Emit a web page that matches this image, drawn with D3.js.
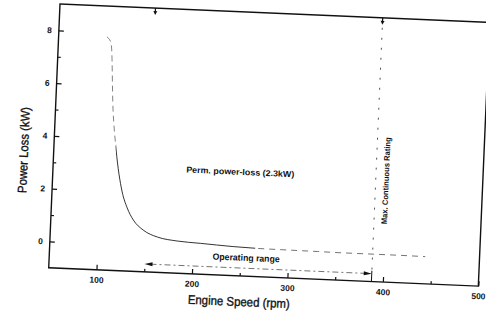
<!DOCTYPE html>
<html><head><meta charset="utf-8">
<script src="https://cdn.jsdelivr.net/npm/d3@7"></script>
<style>
html,body{margin:0;padding:0;background:#fff;}
svg{display:block;}
text{font-family:"Liberation Sans",Arial,Helvetica,sans-serif;fill:#111;}
</style></head>
<body>
<svg id="chart" width="486" height="320"></svg>
<script>
// ---- data ----
const speed = [100.6, 105.1, 110.2, 115.2, 123.4, 129.4, 136.2, 147.1, 162.1, 183.1, 207.3, 241.9, 267.1, 294.4, 330.0, 357.3, 388.7, 409.6, 443.2];
const loss  = [7.83, 7.61, 5.08, 3.57, 1.99, 1.39, 0.95, 0.58, 0.34, 0.22, 0.17, 0.10, 0.07, 0.06, 0.05, 0.04, 0.04, 0.04, 0.03];
const xTicks = [100, 200, 300, 400, 500];
const xMinorTicks = [150, 250, 350, 450];
const yTicks = [0, 2, 4, 6, 8];
const yMinorTicks = [1, 3, 5, 7];
const operatingRange = [150, 388];   // rpm
const operatingLevel = -0.7;         // kW
const mcrSpeed = 388;                // rpm, max continuous rating
const curveBreaks = [115, 265];      // rpm where the scanned line changes look
const labels = {
  x: "Engine Speed (rpm)",
  y: "Power Loss (kW)",
  perm: "Perm. power-loss (2.3kW)",
  op: "Operating range",
  mcr: "Max. Continuous Rating"
};

// ---- layout ----
const W = 430, H = 264;
const svg = d3.select("#chart");
const g = svg.append("g").attr("transform", "translate(60,4) rotate(2.45)");

const x = d3.scaleLinear().domain([50, 500]).range([0, W]);
const y = d3.scaleLinear().domain([-1, 9]).range([H, 0]);

// frame
g.append("rect").attr("x", 0).attr("y", 0).attr("width", W).attr("height", H)
  .attr("fill", "none").attr("stroke", "#111").attr("stroke-width", 1.4);

// axes
function styleAxis(sel){
  sel.select(".domain").remove();
  sel.selectAll("line").attr("stroke", "#111").attr("stroke-width", 1.2);
  sel.selectAll("text").attr("font-size", 8.5).attr("font-weight", "bold").attr("fill", "#111");
}
g.append("g").attr("transform", `translate(0,${H})`)
  .call(d3.axisBottom(x).tickValues(xTicks).tickSize(-5).tickSizeOuter(0).tickPadding(7).tickFormat(d3.format("d")))
  .call(styleAxis);
g.append("g").attr("transform", `translate(0,${H})`)
  .call(d3.axisBottom(x).tickValues(xMinorTicks).tickSize(-3).tickSizeOuter(0).tickFormat(""))
  .call(styleAxis);
g.append("g")
  .call(d3.axisLeft(y).tickValues(yTicks).tickSize(-5).tickSizeOuter(0).tickPadding(7).tickFormat(d3.format("d")))
  .call(styleAxis);
g.append("g")
  .call(d3.axisLeft(y).tickValues(yMinorTicks).tickSize(-3).tickSizeOuter(0).tickFormat(""))
  .call(styleAxis);

// axis titles
g.append("text").attr("x", x(250.3)).attr("y", H + 26)
  .attr("text-anchor", "middle").attr("dominant-baseline", "central")
  .attr("font-size", 12.5).attr("textLength", 102).attr("lengthAdjust", "spacingAndGlyphs")
  .attr("stroke", "#111").attr("stroke-width", 0.35)
  .text(labels.x);
g.append("text").attr("transform", `translate(-29.6,147.4) rotate(-90)`)
  .attr("text-anchor", "middle").attr("dominant-baseline", "central")
  .attr("font-size", 12.5).attr("textLength", 86).attr("lengthAdjust", "spacingAndGlyphs")
  .attr("stroke", "#111").attr("stroke-width", 0.35)
  .text(labels.y);

// power-loss curve, one geometry shown with three looks (clipped by speed)
const pts = speed.map((s, i) => [s, loss[i]]);
const line = d3.line().x(d => x(d[0])).y(d => y(d[1])).curve(d3.curveMonotoneX);
const defs = svg.append("defs");
const bounds = [50, curveBreaks[0], curveBreaks[1], 500];
const looks = [
  {dash: "6,4", col: "#777"},
  {dash: null, col: "#222"},
  {dash: "6,5", col: "#666"}
];
looks.forEach((lk, i) => {
  const id = "clip" + i;
  defs.append("clipPath").attr("id", id).append("rect")
    .attr("x", x(bounds[i])).attr("y", 0)
    .attr("width", x(bounds[i + 1]) - x(bounds[i])).attr("height", H);
  g.append("path").datum(pts).attr("clip-path", `url(#${id})`)
    .attr("d", line).attr("fill", "none").attr("stroke", lk.col)
    .attr("stroke-width", 0.9).attr("stroke-dasharray", lk.dash);
});

// max continuous rating line
g.append("line").attr("x1", x(mcrSpeed)).attr("x2", x(mcrSpeed))
  .attr("y1", y(9)).attr("y2", y(-1))
  .attr("stroke", "#444").attr("stroke-width", 0.9).attr("stroke-dasharray", "2,8");
// top markers (small down arrows)
[operatingRange[0], mcrSpeed].forEach(s => {
  const cx = x(s), cy = y(9);
  g.append("line").attr("x1", cx).attr("x2", cx).attr("y1", cy).attr("y2", cy + 4)
    .attr("stroke", "#111").attr("stroke-width", 1.2);
  g.append("path").attr("d", `M${cx-2},${cy+3}L${cx+2},${cy+3}L${cx},${cy+7}Z`).attr("fill", "#111");
});

// operating range arrow
const oy = y(operatingLevel);
const ox0 = x(operatingRange[0]), ox1 = x(operatingRange[1]);
g.append("line").attr("x1", ox0 + 6).attr("x2", ox1 - 6).attr("y1", oy).attr("y2", oy)
  .attr("stroke", "#666").attr("stroke-width", 0.9).attr("stroke-dasharray", "6,3,2,3");
g.append("path").attr("d", `M${ox0},${oy}L${ox0+8},${oy-2}L${ox0+8},${oy+2}Z`).attr("fill", "#111");
g.append("path").attr("d", `M${ox1},${oy}L${ox1-8},${oy-2}L${ox1-8},${oy+2}Z`).attr("fill", "#111");
g.append("line").attr("x1", ox1).attr("x2", ox1).attr("y1", oy - 3).attr("y2", H)
  .attr("stroke", "#111").attr("stroke-width", 1);

// annotations
g.append("text").attr("x", x(246)).attr("y", y(2.94)).attr("dy", "0.35em")
  .attr("text-anchor", "middle").attr("font-size", 8.5).attr("font-weight", "bold")
  .attr("textLength", 108).attr("lengthAdjust", "spacingAndGlyphs")
  .text(labels.perm);
g.append("text").attr("x", x(256)).attr("y", y(-0.3)).attr("dy", "0.35em")
  .attr("text-anchor", "middle").attr("font-size", 9).attr("font-weight", "bold")
  .attr("textLength", 67).attr("lengthAdjust", "spacingAndGlyphs")
  .text(labels.op);
g.append("text").attr("transform", `translate(${x(399)},${y(2.84)}) rotate(-90)`)
  .attr("text-anchor", "middle").attr("dominant-baseline", "central")
  .attr("font-size", 8).attr("font-weight", "bold")
  .attr("textLength", 87).attr("lengthAdjust", "spacingAndGlyphs")
  .text(labels.mcr);
</script>
</body></html>
